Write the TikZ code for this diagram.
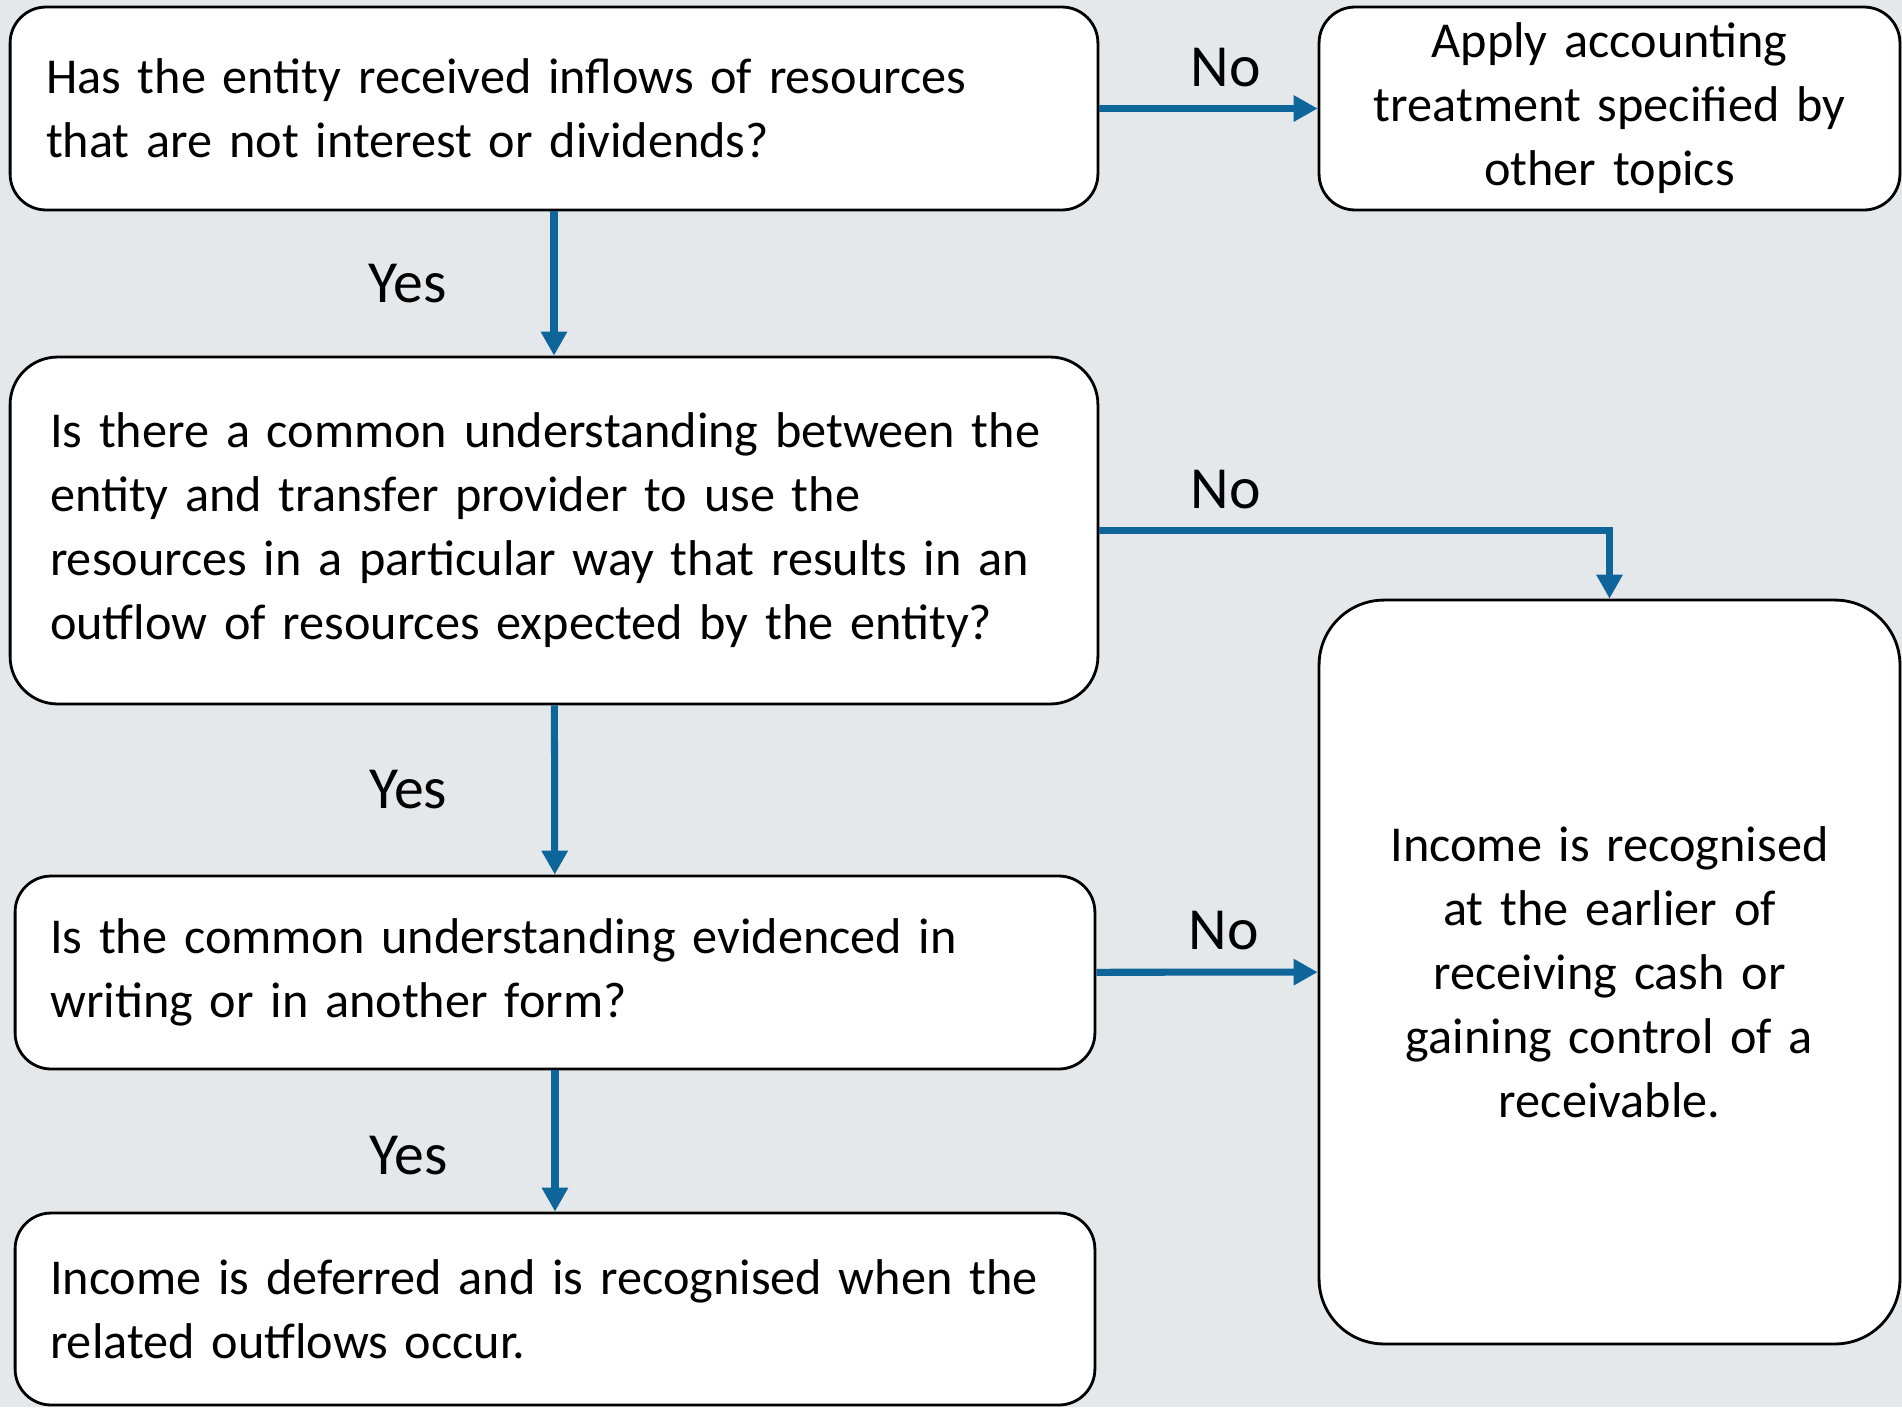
\documentclass[tikz,border=0pt]{standalone}
\usepackage{fontspec}
\setmainfont{Carlito}
\usetikzlibrary{arrows.meta}
\definecolor{bgcol}{RGB}{229,232,235}
\definecolor{arrowcol}{RGB}{14,101,153}

\begin{document}
\begin{tikzpicture}[x=0.02cm,y=-0.02cm,
	box/.style={draw=black,line width=1.6pt,fill=white,rounded corners=0.72cm,
		font=\fontsize{28.6}{36.4}\selectfont,inner ysep=0pt},
	leftbox/.style={box,align=left,inner xsep=0.72cm,text width=20.32cm},
	midbox/.style={box,align=center,inner xsep=0.3cm,text width=11.02cm},
	flow/.style={draw=arrowcol,line width=4pt,-{Triangle[length=0.48cm,width=0.5cm]}},
	answer/.style={font=\fontsize{34}{40}\selectfont}]
	\fill[bgcol] (0,0) rectangle (1902,1407);
	\node[leftbox,minimum height=4.06cm] (q1) at (554,108.5)
		{Has the entity received inflows of resources\\that are not interest or dividends?};
	\node[midbox,minimum height=4.06cm] (a1) at (1609.5,108.5)
		{Apply accounting\\treatment specified by\\other topics};
	\node[leftbox,inner xsep=0.8cm,text width=20.16cm,minimum height=6.94cm,rounded corners=0.95cm] (q2) at (554,530.5)
		{Is there a common understanding between the\\entity and transfer provider to use the\\resources in a particular way that results in an\\outflow of resources expected by the entity?};
	\node[leftbox,inner xsep=0.7cm,text width=20.2cm,minimum height=3.86cm] (q3) at (555,972.5)
		{Is the common understanding evidenced in\\writing or in another form?};
	\node[leftbox,inner xsep=0.7cm,text width=20.2cm,minimum height=3.84cm] (r1) at (555,1309)
		{Income is deferred and is recognised when the\\related outflows occur.};
	\node[midbox,minimum height=14.88cm,rounded corners=1.3cm] (r2) at (1609.5,972)
		{Income is recognised\\at the earlier of\\receiving cash or\\gaining control of a\\receivable.};
	\draw
	(q1) edge[flow] node[answer,midway,left=1.96cm] {Yes} (q2)
	(q2) edge[flow] node[answer,midway,left=1.96cm] {Yes} (q3)
	(q3) edge[flow] node[answer,pos=0.6,left=1.96cm] {Yes} (r1)
	(q1) edge[flow] node[answer,midway,above=0.25cm,xshift=0.34cm] {No} (a1)
	(q3) edge[flow] node[answer,midway,above=0.25cm,xshift=0.34cm] {No} (r2);
	\draw[flow] (q2.east) -| node[answer,pos=0.124,above=0.25cm] {No} (r2.north);
\end{tikzpicture}
\end{document}
